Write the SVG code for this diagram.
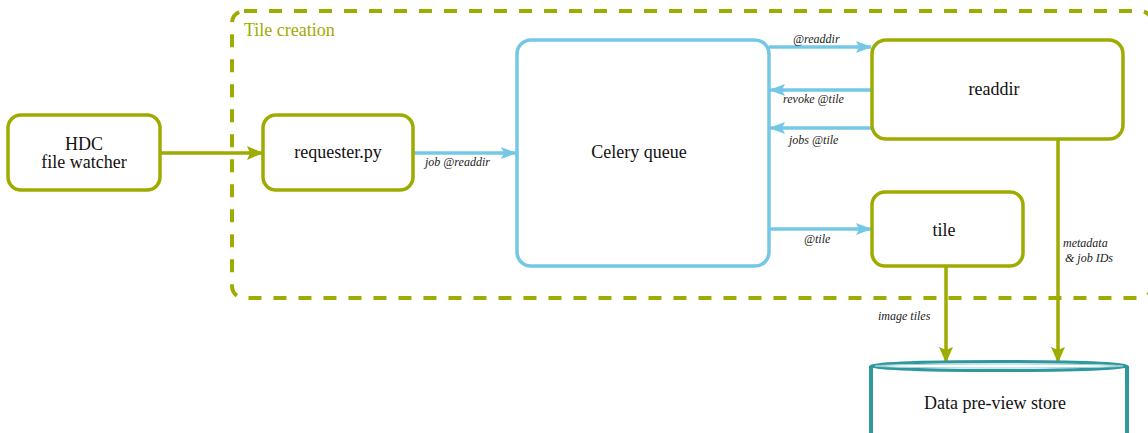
<svg xmlns="http://www.w3.org/2000/svg" width="1148" height="433" viewBox="0 0 1148 433">
  <style>
    .olive { fill: #fff; stroke: #9eab00; stroke-width: 3.5; }
    .blue { fill: #fff; stroke: #74c8e6; stroke-width: 3.5; }
    text { font-family: "Liberation Serif", "DejaVu Serif", serif; }
    .node-text { font-size: 18px; fill: #111; text-anchor: middle; }
    .lbl { font-size: 12px; font-style: italic; fill: #222; }
    .ol-line { stroke: #9eab00; stroke-width: 3.5; fill: none; }
    .bl-line { stroke: #74c8e6; stroke-width: 3.5; fill: none; }
  </style>
  <defs>
    <marker id="headOlive" markerUnits="userSpaceOnUse" markerWidth="16" markerHeight="14" refX="15" refY="7" orient="auto">
      <path d="M0,0 L16,7 L0,14 L3,7 Z" fill="#9eab00"/>
    </marker>
    <marker id="headBlue" markerUnits="userSpaceOnUse" markerWidth="16" markerHeight="12" refX="15" refY="6" orient="auto">
      <path d="M0,0 L16,6 L0,12 L3,6 Z" fill="#74c8e6"/>
    </marker>
  </defs>

  <rect width="1148" height="433" fill="#fff"/>

  <!-- tile creation boundary -->
  <g id="tile-creation">
    <rect x="232" y="11" width="920" height="287" rx="12" fill="none" stroke="#9eab00" stroke-width="4" stroke-dasharray="13 12"/>
    <text x="244" y="36" style="font-family:'Liberation Serif',serif;font-size:18px" fill="#9eab00">Tile creation</text>
  </g>

  <!-- connectors -->
  <g id="connectors">
    <line class="ol-line" x1="160" y1="153" x2="262" y2="153" marker-end="url(#headOlive)"/>
    <line class="bl-line" x1="413" y1="153" x2="516" y2="153" marker-end="url(#headBlue)"/>
    <text class="lbl" style="font-family:'Liberation Serif',serif" x="425" y="166">job @readdir</text>

    <line class="bl-line" x1="769" y1="47" x2="871" y2="47" marker-end="url(#headBlue)"/>
    <text class="lbl" style="font-family:'Liberation Serif',serif" x="793" y="43">@readdir</text>
    <line class="bl-line" x1="871" y1="90" x2="770" y2="90" marker-end="url(#headBlue)"/>
    <text class="lbl" style="font-family:'Liberation Serif',serif" x="783" y="103">revoke @tile</text>
    <line class="bl-line" x1="871" y1="128" x2="770" y2="128" marker-end="url(#headBlue)"/>
    <text class="lbl" style="font-family:'Liberation Serif',serif" x="789" y="144">jobs @tile</text>
    <line class="bl-line" x1="769" y1="229" x2="871" y2="229" marker-end="url(#headBlue)"/>
    <text class="lbl" style="font-family:'Liberation Serif',serif" x="804" y="243">@tile</text>

    <line class="ol-line" x1="946" y1="266" x2="946" y2="362" marker-end="url(#headOlive)"/>
    <text class="lbl" style="font-family:'Liberation Serif',serif" x="878" y="320">image tiles</text>
    <line class="ol-line" x1="1058" y1="140" x2="1058" y2="362" marker-end="url(#headOlive)"/>
    <text class="lbl" style="font-family:'Liberation Serif',serif" x="1063" y="247">metadata</text>
    <text class="lbl" style="font-family:'Liberation Serif',serif" x="1065" y="262">&amp; job IDs</text>
  </g>

  <g id="hdc-watcher">
    <rect class="olive" x="8" y="115" width="152" height="75" rx="13"/>
    <text class="node-text" style="font-family:'Liberation Serif',serif" x="84" y="150">HDC</text>
    <text class="node-text" style="font-family:'Liberation Serif',serif" x="84" y="168">file watcher</text>
  </g>

  <g id="requester">
    <rect class="olive" x="263" y="115" width="150" height="75" rx="13"/>
    <text class="node-text" style="font-family:'Liberation Serif',serif" x="338" y="158">requester.py</text>
  </g>

  <g id="celery-queue">
    <rect class="blue" x="517" y="40" width="252" height="226" rx="14"/>
    <text class="node-text" style="font-family:'Liberation Serif',serif" x="639" y="158">Celery queue</text>
  </g>

  <g id="readdir">
    <rect class="olive" x="872" y="40" width="251" height="99" rx="14"/>
    <text class="node-text" style="font-family:'Liberation Serif',serif" x="994" y="95">readdir</text>
  </g>

  <g id="tile">
    <rect class="olive" x="872" y="192" width="151" height="74" rx="13"/>
    <text class="node-text" style="font-family:'Liberation Serif',serif" x="944" y="236">tile</text>
  </g>

  <g id="preview-store">
    <rect x="871" y="366" width="256" height="80" fill="#fff"/>
    <line x1="871" y1="366" x2="871" y2="440" stroke="#2f979f" stroke-width="4"/>
    <line x1="1127" y1="366" x2="1127" y2="440" stroke="#2f979f" stroke-width="4"/>
    <ellipse cx="999" cy="366" rx="128" ry="4.5" fill="#fff" stroke="#2f979f" stroke-width="3"/>
    <ellipse cx="999" cy="366" rx="124" ry="2" fill="none" stroke="#9fd1d4" stroke-width="1"/>
    <text class="node-text" style="font-family:'Liberation Serif',serif" x="995" y="409">Data pre-view store</text>
  </g>
</svg>
